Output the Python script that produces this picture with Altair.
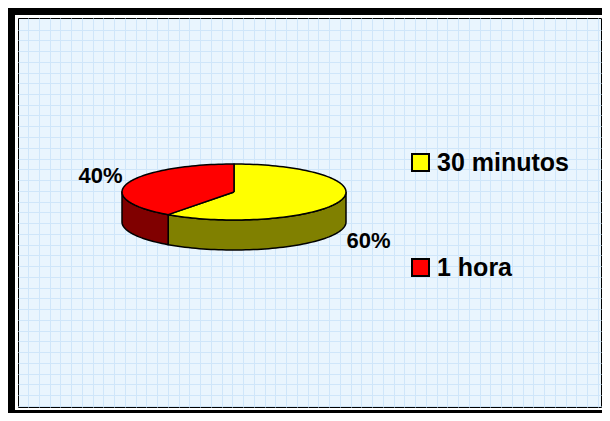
import math
import altair as alt
import pandas as pd

# ---- data ----
categories = ["30 minutos", "1 hora"]
values = [60, 40]
top_colors = ["#FFFF00", "#FF0000"]
side_colors = ["#808000", "#800000"]
pct_labels = ["60%", "40%"]

# ---- layout (view pixels) ----
W, H = 583, 389
CX, CY, A, B, D = 216, 174, 112, 28, 30
GRID = 10.75
FONT = "Liberation Sans"


def pt(theta_deg, dy=0.0):
    t = math.radians(theta_deg)
    return CX + A * math.sin(t), CY - B * math.cos(t) + dy


def arc(s, e, dy=0.0):
    n = max(int(abs(e - s) / 2), 2)
    return [pt(s + (e - s) * k / n, dy) for k in range(n + 1)]


total = float(sum(values))
top_rows, side_rows, lab_rows = [], [], []
start = 0.0
for cat, v, lab in zip(categories, values, pct_labels):
    end = start + 360.0 * v / total
    pts = [(CX, CY)] + arc(start, end) + [(CX, CY)]
    for i, (x, y) in enumerate(pts):
        top_rows.append(dict(cat=cat, i=i, x=x, y=y))
    s, e = max(start, 90.0), min(end, 270.0)
    if e > s:
        spts = arc(s, e) + arc(e, s, D) + [pt(s)]
        for i, (x, y) in enumerate(spts):
            side_rows.append(dict(side="side " + cat, i=i, x=x, y=y))
    mid = (start + end) / 2
    t = math.radians(mid)
    right = math.sin(t) >= 0
    upper = math.cos(t) >= 0
    px, py = pt(mid, 0.0 if upper else D)
    lab_rows.append(dict(text=lab, x=px + (6 if right else -5), y=py + (0 if upper else 0.5),
                         align="left" if right else "right",
                         baseline="alphabetic" if upper else "top"))
    start = end

top_df = pd.DataFrame(top_rows)
side_df = pd.DataFrame(side_rows)
lab_df = pd.DataFrame(lab_rows)

gx = [round(10 + GRID * k, 2) for k in range(60) if 10 + GRID * k < W]
gy = [round(11.5 + GRID * k, 2) for k in range(60) if 11.5 + GRID * k < H]


def X():
    return alt.X("x:Q", scale=alt.Scale(domain=[0, W], nice=False, zero=False),
                 axis=alt.Axis(values=gx, grid=True, labels=False, ticks=False, domain=False,
                               title="", gridColor="#CFE6FA", gridWidth=1, gridOpacity=1))


def Y():
    return alt.Y("y:Q", scale=alt.Scale(domain=[0, H], nice=False, zero=False, reverse=True),
                 axis=alt.Axis(values=gy, grid=True, labels=False, ticks=False, domain=False,
                               title="", gridColor="#CFE6FA", gridWidth=1, gridOpacity=1))


sides = alt.Chart(side_df).mark_line(stroke="black", strokeWidth=1.5, strokeJoin="round").encode(
    x=X(), y=Y(),
    fill=alt.Fill("side:N", scale=alt.Scale(domain=["side " + c for c in categories], range=side_colors),
                  legend=None),
    order=alt.Order("i:Q"),
)

tops = alt.Chart(top_df).mark_line(stroke="black", strokeWidth=1.5, strokeJoin="round").encode(
    x=X(), y=Y(),
    fill=alt.Fill("cat:N", scale=alt.Scale(domain=categories, range=top_colors),
                  legend=alt.Legend(title=None, orient="none", legendX=390, legendY=132,
                                    symbolType="square", symbolSize=289, symbolStrokeColor="black",
                                    symbolStrokeWidth=2, labelFont=FONT, labelFontSize=25,
                                    labelFontWeight="bold", labelColor="black", labelOffset=4,
                                    labelLimit=300, rowPadding=79, padding=0)),
    order=alt.Order("i:Q"),
)

text_layers = []
for (al, bl), _ in lab_df.groupby(["align", "baseline"]):
    text_layers.append(
        alt.Chart(lab_df).transform_filter(
            (alt.datum.align == al) & (alt.datum.baseline == bl)
        ).mark_text(align=al, baseline=bl, font=FONT, fontSize=22, fontWeight="bold", color="black").encode(
            x=X(), y=Y(), text="text:N")
    )

frame = alt.Chart(alt.Data(values=[{"a": 1}])).mark_rect(
    filled=False, stroke="black", strokeWidth=7).encode(
    x=alt.value(-6.5), x2=alt.value(W + 6.5), y=alt.value(-6.5), y2=alt.value(H + 6.5))

chart = alt.layer(sides, tops, *text_layers, frame).resolve_scale(fill="independent").properties(
    width=W, height=H,
    autosize=alt.AutoSizeParams(type="none"),
    padding={"left": 10, "top": 10, "right": 1, "bottom": 6},
).configure_view(fill="#E9F5FE", stroke="black", strokeWidth=1)

chart.save("out.html", embed_options={"renderer": "svg", "actions": False})
